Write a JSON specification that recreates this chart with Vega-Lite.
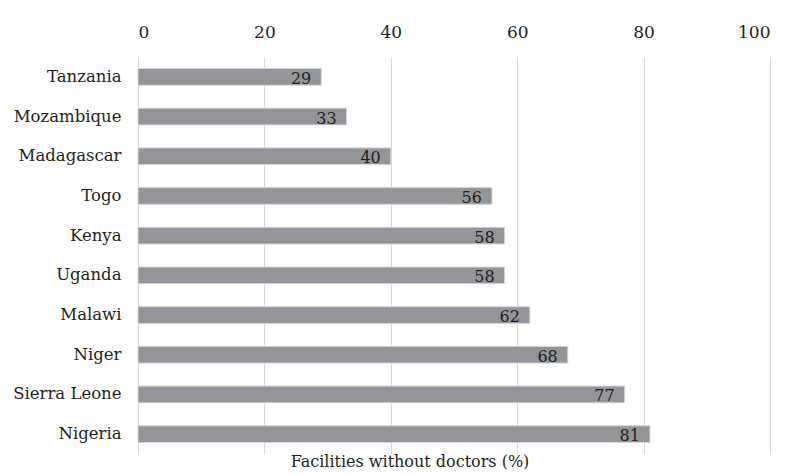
{
  "$schema": "https://vega.github.io/schema/vega-lite/v6.json",
  "width": 632,
  "height": 397,
  "autosize": "none",
  "padding": {"left": 138, "top": 57, "right": 24, "bottom": 21},
  "background": "white",
  "config": {
    "view": {"stroke": null},
    "font": "DejaVu Serif",
    "axis": {"labelFont": "DejaVu Serif", "labelColor": "#231f20"}
  },
  "title": {
    "text": "Facilities without doctors (%)",
    "orient": "bottom",
    "anchor": "middle",
    "frame": "group",
    "dx": -44,
    "offset": 0,
    "font": "DejaVu Serif",
    "fontSize": 16,
    "fontWeight": "normal",
    "color": "#231f20"
  },
  "data": {
    "values": [
      {"country": "Tanzania", "value": 29},
      {"country": "Mozambique", "value": 33},
      {"country": "Madagascar", "value": 40},
      {"country": "Togo", "value": 56},
      {"country": "Kenya", "value": 58},
      {"country": "Uganda", "value": 58},
      {"country": "Malawi", "value": 62},
      {"country": "Niger", "value": 68},
      {"country": "Sierra Leone", "value": 77},
      {"country": "Nigeria", "value": 81}
    ]
  },
  "encoding": {
    "y": {
      "field": "country",
      "type": "nominal",
      "sort": null,
      "scale": {"paddingInner": 0.58, "paddingOuter": 0.29},
      "axis": {"title": null, "domain": false, "ticks": false, "labelFontSize": 16.5, "labelPadding": 17, "grid": false}
    },
    "x": {
      "field": "value",
      "type": "quantitative",
      "scale": {"domain": [0, 100], "nice": false},
      "axis": {
        "orient": "top",
        "title": null,
        "values": [0, 20, 40, 60, 80, 100],
        "domain": false,
        "ticks": false,
        "grid": true,
        "gridColor": "#d9d9d9",
        "gridWidth": 1,
        "labelFontSize": 17,
        "labelPadding": 16
      }
    }
  },
  "layer": [
    {
      "mark": {"type": "bar", "color": "#939598", "stroke": "#d4d4d4", "strokeWidth": 1}
    },
    {
      "mark": {"type": "text", "align": "right", "baseline": "middle", "dx": -10, "dy": 2, "fontSize": 16, "color": "#231f20", "font": "DejaVu Serif"},
      "encoding": {"text": {"field": "value", "type": "quantitative"}}
    }
  ]
}
